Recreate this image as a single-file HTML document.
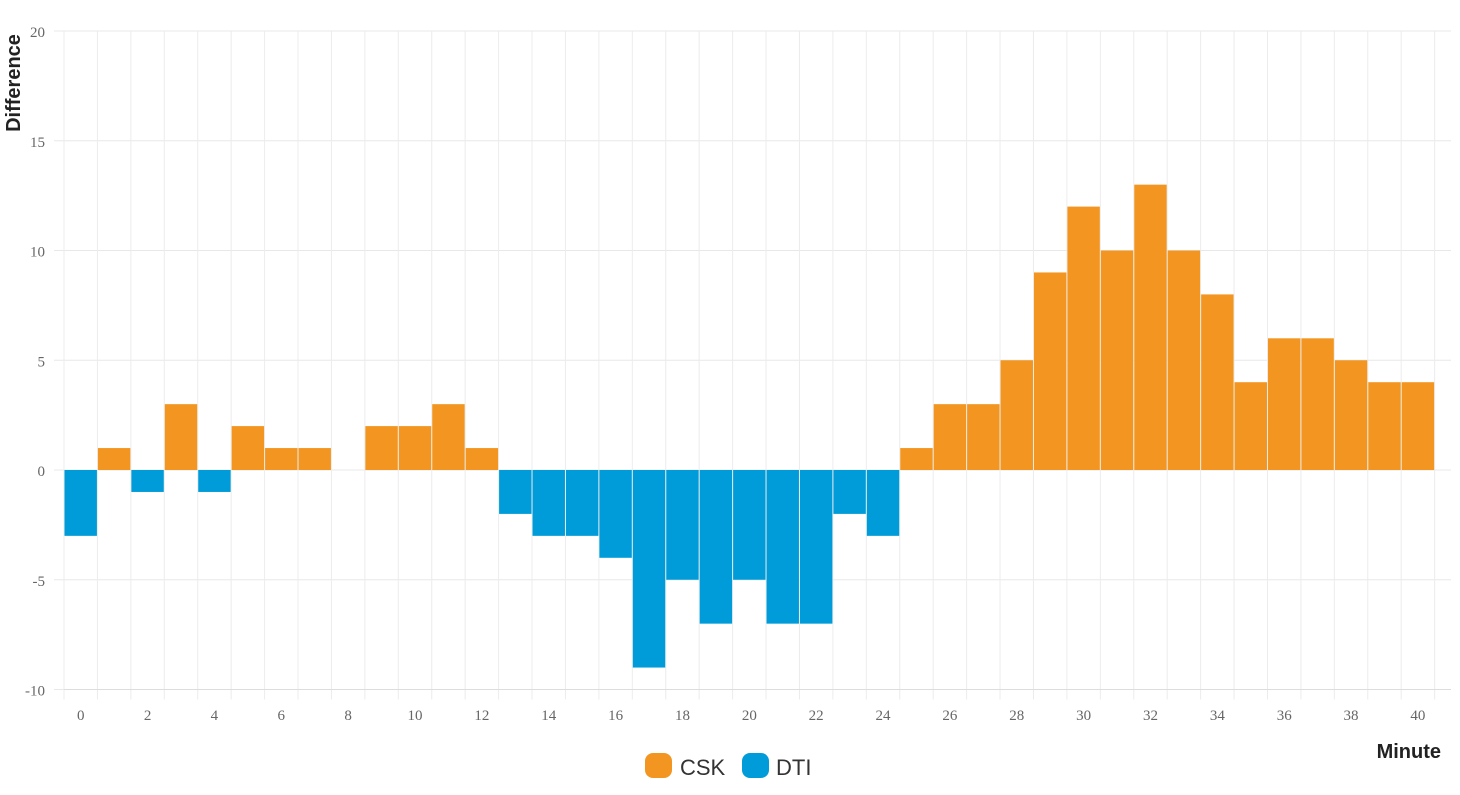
<!DOCTYPE html>
<html><head><meta charset="utf-8"><style>
body{margin:0;background:#fff;}
svg{display:block;}
</style></head><body>
<svg id="chart" width="1460" height="795" xmlns="http://www.w3.org/2000/svg">
<g id="grid"></g>
<g id="bars"></g>
<g id="axes"></g>
<text x="20" y="83" transform="rotate(-90 20 83)" text-anchor="middle" font-family="Liberation Sans, sans-serif" font-weight="bold" font-size="20" fill="#222">Difference</text>
<text x="1441" y="758" text-anchor="end" font-family="Liberation Sans, sans-serif" font-weight="bold" font-size="20" fill="#222">Minute</text>
<g>
<g><rect x="645" y="753" width="27" height="25" rx="8" fill="#f39621"/><text x="680" y="775" font-family="Liberation Sans, sans-serif" font-size="22" fill="#333">CSK</text></g>
<g><rect x="742" y="753" width="27" height="25" rx="8" fill="#009cd9"/><text x="776" y="775" font-family="Liberation Sans, sans-serif" font-size="22" fill="#333">DTI</text></g>
</g>
</svg>
<script>
const minutes = [0,1,2,3,4,5,6,7,8,9,10,11,12,13,14,15,16,17,18,19,20,21,22,23,24,25,26,27,28,29,30,31,32,33,34,35,36,37,38,39,40];
const differences = [-3,1,-1,3,-1,2,1,1,0,2,2,3,1,-2,-3,-3,-4,-9,-5,-7,-5,-7,-7,-2,-3,1,3,3,5,9,12,10,13,10,8,4,6,6,5,4,4];
const yTicks = [-10,-5,0,5,10,15,20];
const xTickLabels = [0,2,4,6,8,10,12,14,16,18,20,22,24,26,28,30,32,34,36,38,40];

const NS = 'http://www.w3.org/2000/svg';
const left = 64, right = 1451, band = 33.43;
const y0px = 470, unit = 21.95;
function yScale(v){ return y0px - v*unit; }
function xScale(i){ return left + i*band; }
function mk(tag, attrs, parent){ const e=document.createElementNS(NS,tag); for(const k in attrs) e.setAttribute(k,attrs[k]); parent.appendChild(e); return e; }
const grid=document.getElementById('grid'), bars=document.getElementById('bars'), axes=document.getElementById('axes');

yTicks.forEach(t=>{
  const y=yScale(t);
  const l=mk('line',{x1:54,x2:right,y1:y,y2:y,stroke:'#e8e8e8','stroke-width':1},grid);
  
  
  const tx=mk('text',{x:45,y:y+6,'text-anchor':'end','font-family':'Liberation Serif, serif','font-size':15,fill:'#666'},axes);
  tx.textContent=t;
  
  
});
for(let i=0;i<=minutes.length;i++){
  const x=xScale(i);
  const l=mk('line',{x1:x,x2:x,y1:yScale(20),y2:yScale(-10)+10,stroke:'#ececec','stroke-width':1},grid);
  
  
}
minutes.forEach((m,i)=>{
  const v=differences[i];
  if(v===0) return;
  const y=Math.min(yScale(v),yScale(0)), h=Math.abs(yScale(v)-yScale(0));
  const r=mk('rect',{x:xScale(i)+0.5,y:y,width:band-1,height:h,fill:v>0?'#f39621':'#009cd9'},bars);
  
  
});
const ax=mk('line',{x1:left,x2:right,y1:yScale(-10),y2:yScale(-10),stroke:'#ddd','stroke-width':1},axes);


xTickLabels.forEach(m=>{
  const i=minutes.indexOf(m);
  const tx=mk('text',{x:xScale(i)+band/2,y:720,'text-anchor':'middle','font-family':'Liberation Serif, serif','font-size':15,fill:'#666'},axes);
  tx.textContent=m;
  
  
});
</script>
</body></html>
